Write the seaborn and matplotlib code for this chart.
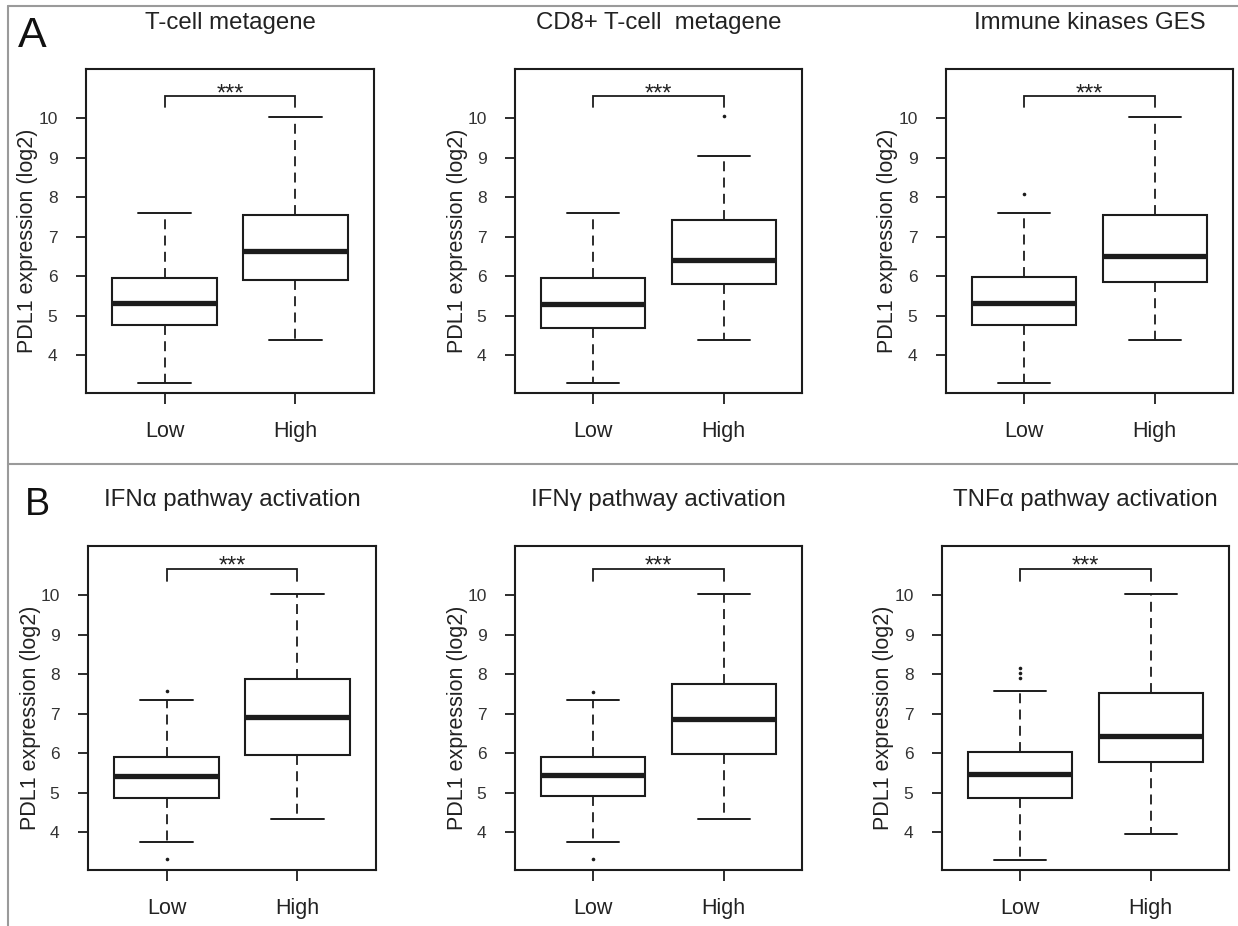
import numpy as np
import pandas as pd
import matplotlib
matplotlib.use("Agg")
import matplotlib.pyplot as plt
import seaborn as sns
from matplotlib.lines import Line2D

# ---------------- data ----------------
groups = ["Low", "High"]
titles = ["T-cell metagene", "CD8+ T-cell  metagene", "Immune kinases GES",
          "IFNα pathway activation", "IFNγ pathway activation", "TNFα pathway activation"]
ytick_vals = [4, 5, 6, 7, 8, 9, 10]
ylabel = "PDL1 expression (log2)"
panel_letters = ["A", "B"]
significance = ["***", "***", "***", "***", "***", "***"]

# five-number summaries: [lower whisker, Q1, median, Q3, upper whisker]
tcell_low = [3.30, 4.75, 5.32, 5.94, 7.60]
tcell_high = [4.37, 5.90, 6.64, 7.54, 10.03]
cd8_low = [3.30, 4.69, 5.29, 5.94, 7.60]
cd8_high = [4.37, 5.81, 6.41, 7.43, 9.04]
kin_low = [3.30, 4.75, 5.32, 5.98, 7.60]
kin_high = [4.37, 5.86, 6.51, 7.54, 10.03]
ifna_low = [3.76, 4.86, 5.41, 5.91, 7.35]
ifna_high = [4.32, 5.94, 6.90, 7.88, 10.03]
ifng_low = [3.76, 4.91, 5.45, 5.91, 7.35]
ifng_high = [4.32, 5.98, 6.85, 7.75, 10.03]
tnfa_low = [3.30, 4.86, 5.48, 6.02, 7.56]
tnfa_high = [3.95, 5.78, 6.43, 7.51, 10.03]

# outliers
tcell_out_low, tcell_out_high = [], []
cd8_out_low, cd8_out_high = [], [10.05]
kin_out_low, kin_out_high = [8.07], []
ifna_out_low, ifna_out_high = [7.58, 3.33], []
ifng_out_low, ifng_out_high = [7.54, 3.33], []
tnfa_out_low, tnfa_out_high = [8.16, 8.03, 7.90], []

lows = [tcell_low, cd8_low, kin_low, ifna_low, ifng_low, tnfa_low]
highs = [tcell_high, cd8_high, kin_high, ifna_high, ifng_high, tnfa_high]
out_lows = [tcell_out_low, cd8_out_low, kin_out_low, ifna_out_low, ifng_out_low, tnfa_out_low]
out_highs = [tcell_out_high, cd8_out_high, kin_out_high, ifna_out_high, ifng_out_high, tnfa_out_high]

# bracket heights (row A, row B): (bar, leg end, star baseline)
bracket_rows = [(10.56, 10.27, 10.45), (10.67, 10.36, 10.56)]

# ---------------- style ----------------
sns.set_style("ticks")
plt.rcParams["font.family"] = ["Liberation Sans", "DejaVu Sans"]
LC = "#1c1c1c"
TC = "#222222"

W, H = 1238, 926
fig = plt.figure(figsize=(W / 100, H / 100), dpi=100)
fig.patch.set_facecolor("white")

# pixel boxes (left, right) per panel, rows (top, bottom)
col_px = [[(86, 374), (515, 802), (946, 1233)],
          [(88, 376), (515, 802), (942, 1229)]]
row_px = [(69, 393), (546, 870)]

for i in range(6):
    r, c = divmod(i, 3)
    l, rr = col_px[r][c]
    t, b = row_px[r]
    ax = fig.add_axes([l / W, 1 - b / H, (rr - l) / W, (b - t) / H])

    df = pd.DataFrame({"group": ["Low"] * len(lows[i]) + ["High"] * len(highs[i]),
                       "value": lows[i] + highs[i]})
    sns.boxplot(data=df, x="group", y="value", order=groups, ax=ax,
                whis=(0, 100), width=0.8, fill=True, color="white",
                linecolor=LC, linewidth=1.5, showfliers=False,
                medianprops=dict(linewidth=3.8, color=LC),
                whiskerprops=dict(linestyle=(0, (5.5, 3.5)), linewidth=1.3, color=LC),
                capprops=dict(linewidth=1.4, color=LC),
                boxprops=dict(linewidth=1.5, edgecolor=LC, facecolor="white"))

    odf = pd.DataFrame({"group": ["Low"] * len(out_lows[i]) + ["High"] * len(out_highs[i]),
                        "value": out_lows[i] + out_highs[i]})
    if len(odf):
        sns.stripplot(data=odf, x="group", y="value", order=groups, ax=ax,
                      jitter=False, color=LC, size=2.6, linewidth=0)

    ax.set_xlim(-0.6, 1.6)
    ax.set_ylim(3.04, 11.24)
    ax.set_yticks(ytick_vals)
    ax.set_yticklabels([str(v) for v in ytick_vals])
    ax.set_xlabel("")
    ax.set_ylabel(ylabel, fontsize=15.5, color=TC)
    ax.yaxis.label.set_va("center")
    ax.yaxis.set_label_coords(-58 / (rr - l), 0.47)
    for s in ax.spines.values():
        s.set_visible(True)
        s.set_linewidth(1.5)
        s.set_color(LC)
    ax.tick_params(axis="y", direction="out", length=7.5, width=1.3, color=LC,
                   labelsize=12.5, labelcolor="#333333", pad=13)
    ax.tick_params(axis="x", direction="out", length=8, width=1.3, color=LC,
                   labelsize=15.5, labelcolor=TC, pad=12)

    bar, leg, star = bracket_rows[r]
    ax.plot([0, 0, 1, 1], [leg, bar, bar, leg], color=LC, linewidth=1.3,
            solid_joinstyle="miter")
    ax.text(0.5, star, significance[i], ha="center", va="baseline",
            fontsize=17, color=TC)

    ax.text(0.5, 1.142, titles[i], transform=ax.transAxes, ha="center",
            va="center", fontsize=17.3, color=TC)

# panel letters
fig.text(18 / W, 1 - 47 / H, panel_letters[0], fontsize=31, color="#111111",
         ha="left", va="baseline")
fig.text(25 / W, 1 - 515 / H, panel_letters[1], fontsize=27, color="#111111",
         ha="left", va="baseline")

# frame lines
gray = "#9a9a9a"
fig.add_artist(Line2D([8 / W, 1], [1 - 6 / H, 1 - 6 / H], color=gray, linewidth=1.5))
fig.add_artist(Line2D([8 / W, 1], [1 - 464 / H, 1 - 464 / H], color=gray, linewidth=1.5))
fig.add_artist(Line2D([8 / W, 8 / W], [0, 1 - 6 / H], color=gray, linewidth=1.5))

fig.savefig("out.png", dpi=100, facecolor="white")
